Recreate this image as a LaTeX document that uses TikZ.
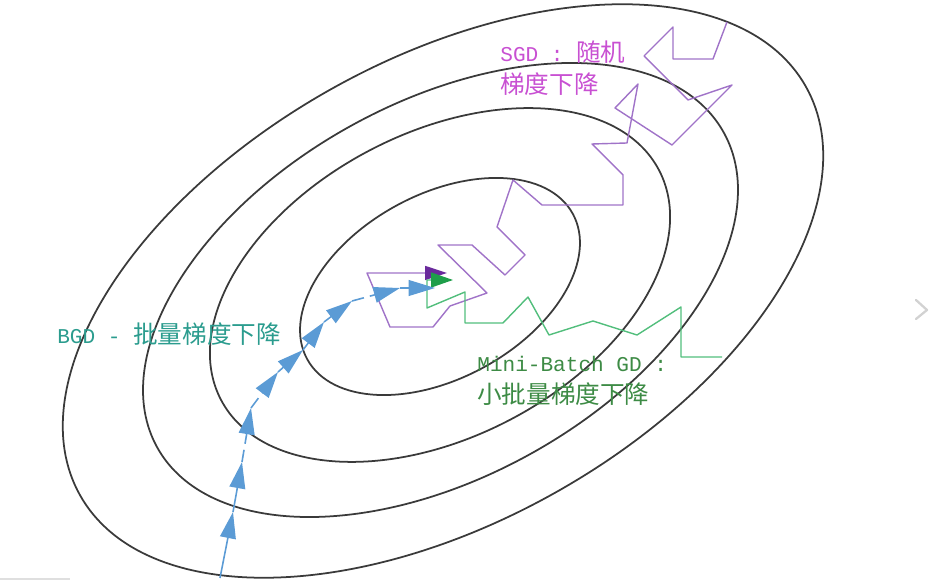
\documentclass[tikz,border=0pt]{standalone}
\usepackage{fontspec}
\usepackage{xcolor}
\usepackage{tikz}
\usetikzlibrary{arrows.meta}
\newfontfamily\cjk{Noto Sans CJK SC}
\newfontfamily\monolat{Liberation Mono}[Scale=0.857]
\definecolor{contour}{HTML}{3A3A3A}
\definecolor{sgdtext}{HTML}{C850D2}
\definecolor{sgdline}{HTML}{A073C8}
\definecolor{sgdtip}{HTML}{6A2A9C}
\definecolor{bgdtext}{HTML}{2B9C8E}
\definecolor{bgdblue}{HTML}{5B9BD5}
\definecolor{mbline}{HTML}{52BE7C}
\definecolor{mbtip}{HTML}{1E9E4A}
\definecolor{mbtext}{HTML}{3D8B45}

\begin{document}
\begin{tikzpicture}[x=0.02cm, y=-0.02cm, line join=round,
    lbl/.style={anchor=base west, inner sep=0pt, font=\fontsize{14}{17}\selectfont\cjk},
    level/.style={contour, line width=1pt},
    bgdseg/.style={bgdblue, line width=0.9pt, -{Triangle[length=15pt, width=9pt]}}]

      \useasboundingbox (0,0) rectangle (951,580);

      \foreach \cx/\cy/\rx/\ry/\ang in {443/291/416.5/230.8/29.4, 440.5/290/324.1/187.0/29.1,
                                        440/285/247.3/151.9/27.7, 440/286.5/151.4/91.9/28.7}{
        \draw[level, rotate around={\ang:(\cx,\cy)}] (\cx,\cy) ellipse [x radius=\rx, y radius=\ry];
      }

      \draw[sgdline, line width=0.8pt, -{Triangle[length=12.5pt, width=8pt, color=sgdtip]}]
        (727,22) -- (713,59) -- (673,59) -- (673,27) -- (644,56) -- (688,100) -- (732,85) --
        (672,145) -- (615,108) -- (638,84) -- (627,143) -- (592,144) -- (623,175) -- (623,205) --
        (542,205) -- (513,180) -- (497,227) -- (525,255) -- (505,275) -- (472,245) -- (438,245) --
        (487,293) -- (450,306) -- (433,327) -- (390,327) -- (367,273) -- (447,273);

      \draw[mbline, line width=0.8pt, -{Triangle[length=12.5pt, width=8.5pt, color=mbtip]}]
        (722,357) -- (681,357) -- (681,307) -- (637,335) -- (593,321) -- (549,335) -- (528,297) --
        (503,323) -- (465,323) -- (465,292) -- (427,308) -- (427,280) -- (453,280);

      \draw[bgdseg] (220,578) -- (233,512);
      \draw[bgdseg] (233,512) -- (242,462);
      \foreach \xa/\ya/\xb/\yb in {242/462/251/408, 251/408/278/372, 278/372/303/350, 303/350/324/322,
                                   324/322/352/301, 352/301/400/288, 400/288/435/288}{
        \draw[bgdseg, dash pattern=on 7pt off 3.5pt] (\xa,\ya) -- (\xb,\yb);
      }

      \node[lbl, text=sgdtext] (sgdA) at (500,62) {{\monolat SGD : }随机};
      \node[lbl, text=sgdtext] (sgdB) at (500,94) {梯度下降};
      \node[lbl, text=bgdtext] (bgd) at (57,344) {{\monolat BGD - }批量梯度下降};
      \node[lbl, text=mbtext] (mbA) at (477,372) {{\monolat Mini-Batch GD :}};
      \node[lbl, text=mbtext] (mbB) at (477,404) {小批量梯度下降};

      \draw[gray!35, line width=1.3pt, line cap=round] (916,300) -- (927,310) -- (916,319);
      \draw[gray!25, line width=1pt] (0,579) -- (70,579);

    \end{tikzpicture}
\end{document}
